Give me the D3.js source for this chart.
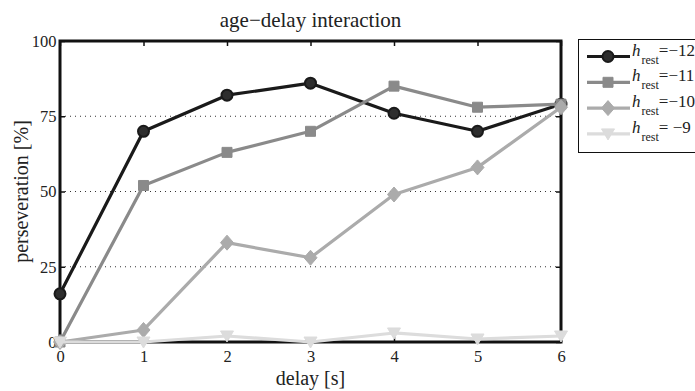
<!DOCTYPE html>
<html><head><meta charset="utf-8">
<script src="https://cdn.jsdelivr.net/npm/d3@7"></script>
<style>body{margin:0;background:#fff}</style>
</head><body>
<svg id="c" width="695" height="391"></svg>
<script>
const delays = [0, 1, 2, 3, 4, 5, 6];
const seriesNames = ["-12", "-11", "-10", "-9"];
const hm12 = [16, 70, 82, 86, 76, 70, 79];
const hm11 = [0, 52, 63, 70, 85, 78, 79];
const hm10 = [0, 4, 33, 28, 49, 58, 78];
const hm9 = [0, 0, 2, 0, 3, 1, 2];
const yTicks = [0, 25, 50, 75, 100];
const colors = ["#1a1a1a", "#8a8a8a", "#ababab", "#dcdcdc"];
const series = [hm12, hm11, hm10, hm9];
const FONT = "Liberation Serif";

const svg = d3.select("#c");
const L = 60, R = 561, T = 41, B = 342;
const x = d3.scaleLinear().domain([0, 6]).range([L, R]);
const y = d3.scaleLinear().domain([0, 100]).range([B, T]);

function marker(k) {
  if (k === 0) return d3.symbol(d3.symbolCircle, 95)();
  if (k === 1) return "M-5,-5H5V5H-5Z";
  if (k === 2) return "M0,-7.5L6.5,0L0,7.5L-6.5,0Z";
  return "M-6.5,-5H6.5L0,6Z";
}
function styleMarker(sel, k) {
  sel.attr("d", marker(k))
    .attr("fill", k === 0 ? "#2e2e2e" : colors[k])
    .attr("stroke", colors[k]).attr("stroke-width", k === 0 ? 2 : 1).attr("stroke-linejoin", "round");
}
function txt(sel, size) {
  return sel.style("font-family", FONT).style("font-size", size + "px").attr("fill", "#222");
}

// grid
svg.append("g").selectAll("line").data([25, 50, 75]).join("line")
  .attr("x1", L).attr("x2", R).attr("y1", d => y(d)).attr("y2", d => y(d))
  .attr("stroke", "#333").attr("stroke-width", 1).attr("stroke-dasharray", "1,4");

// axes
const ax = svg.append("g");
ax.append("g").attr("transform", `translate(0,${B})`)
  .call(d3.axisBottom(x).tickValues(delays).tickSize(-5).tickPadding(8).tickFormat(d3.format("d")));
ax.append("g").attr("transform", `translate(0,${T})`)
  .call(d3.axisTop(x).tickValues(delays).tickSize(-5).tickFormat(""));
ax.append("g").attr("transform", `translate(${L},0)`)
  .call(d3.axisLeft(y).tickValues(yTicks).tickSize(-5).tickPadding(3.5));
ax.append("g").attr("transform", `translate(${R},0)`)
  .call(d3.axisRight(y).tickValues(yTicks).tickSize(-5).tickFormat(""));
ax.selectAll(".domain").remove();
ax.selectAll(".tick line").attr("stroke", "#111").attr("stroke-width", 1.5);
ax.selectAll(".tick text").call(txt, 16.5);
svg.append("rect").attr("x", L).attr("y", T).attr("width", R - L).attr("height", B - T)
  .attr("fill", "none").attr("stroke", "#111").attr("stroke-width", 3);

// series
const line = d3.line().x((d, i) => x(delays[i])).y(d => y(d));
series.forEach((s, k) => {
  const g = svg.append("g");
  g.append("path").datum(s).attr("d", line).attr("fill", "none")
    .attr("stroke", colors[k]).attr("stroke-width", 3.2).attr("stroke-linejoin", "round");
  g.selectAll("path.m").data(s).join("path").attr("class", "m")
    .attr("transform", (d, i) => `translate(${x(delays[i])},${y(d)})`)
    .call(styleMarker, k);
});

// labels
svg.append("text").attr("x", (L + R) / 2).attr("y", 26.5).attr("text-anchor", "middle")
  .call(txt, 21).text("age\u2212delay interaction");
svg.append("text").attr("x", (L + R) / 2).attr("y", 385).attr("text-anchor", "middle")
  .call(txt, 20).text("delay [s]");
svg.append("text").attr("transform", `translate(28,${(T + B) / 2}) rotate(-90)`).attr("text-anchor", "middle")
  .call(txt, 20).text("perseveration [%]");

// legend
const lg = svg.append("g");
lg.append("rect").attr("x", 578.5).attr("y", 39.5).attr("width", 130).attr("height", 113)
  .attr("fill", "#fff").attr("stroke", "#111").attr("stroke-width", 1);
seriesNames.forEach((n, k) => {
  const yy = 56.5 + k * 25.8;
  lg.append("line").attr("x1", 587).attr("x2", 630).attr("y1", yy).attr("y2", yy)
    .attr("stroke", colors[k]).attr("stroke-width", 3.2);
  lg.append("path").attr("transform", `translate(608,${yy})`).call(styleMarker, k);
  const t = lg.append("text").attr("x", 632).attr("y", yy - 1).call(txt, 17);
  t.append("tspan").style("font-style", "italic").text("h");
  t.append("tspan").attr("dx", 1).attr("dy", 8).style("font-size", "12px").text("rest");
  t.append("tspan").attr("dy", -8).text(n === "-9" ? "= \u22129" : "=\u2212" + n.slice(1));
});
</script>
</body></html>
